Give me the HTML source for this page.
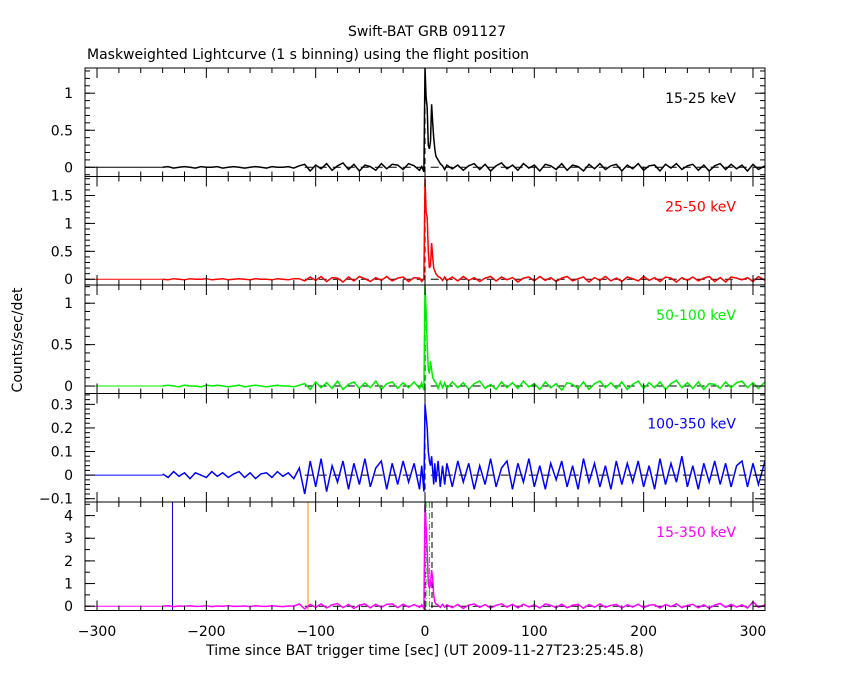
<!DOCTYPE html>
<html><head><meta charset="utf-8"><style>
html,body{margin:0;padding:0;background:#fff;}
svg{display:block;font-family:"DejaVu Sans","Liberation Sans",sans-serif;}
</style></head><body>
<svg id="chart" width="850" height="680" viewBox="0 0 850 680" xmlns="http://www.w3.org/2000/svg">
<rect width="850" height="680" fill="#fff"/>
<text x="427" y="36" font-size="14" text-anchor="middle">Swift-BAT GRB 091127</text>
<text x="87" y="59" font-size="14">Maskweighted Lightcurve (1 s binning) using the flight position</text>
<text transform="translate(22,340) rotate(-90)" font-size="14" text-anchor="middle">Counts/sec/det</text>
<text x="425" y="655" font-size="14" text-anchor="middle">Time since BAT trigger time [sec] (UT 2009-11-27T23:25:45.8)</text>
<g id="plots"></g>
</svg>
<script>
const times = [-240,-235,-230,-225,-220,-215,-210,-205,-200,-195,-190,-185,-180,-175,-170,-165,-160,-155,-150,-145,-140,-135,-130,-125,-120,-115,
-110,-105,-100,-95,-90,-85,-80,-75,-70,-65,-60,-55,-50,-45,-40,-35,-30,-25,-20,-15,-10,
-5,-3,-1,0,1,2,3,4,5,6,7,8,9,10,12,14,16,18,20,
25,30,35,40,45,50,55,60,65,70,75,80,85,90,95,100,105,110,115,120,125,130,135,140,145,150,155,160,165,170,175,180,185,190,195,200,205,210,215,220,225,230,235,240,245,250,255,260,265,270,275,280,285,290,295,300,305,311];
const rate15_25 = [0,0.01,-0.01,0,0.01,0,-0.01,0.01,0,0,0.01,-0.01,0,0.01,0,-0.01,0,0.01,0,-0.01,0.01,0,0,0.01,-0.01,0.02,
0.04,-0.05,0.03,-0.02,0.05,-0.04,0.02,0.06,-0.03,0.04,-0.05,0.03,0.01,-0.04,0.05,-0.02,0.04,0.03,-0.03,0.05,0.02,
-0.04,0.01,-0.06,1.34,0.95,0.8,0.3,0.25,0.35,0.85,0.6,0.4,0.25,0.15,0.1,0.05,0.02,-0.03,0.03,
-0.02,0.03,-0.04,0.02,0.05,-0.03,0.04,-0.05,0.02,0.06,-0.02,0.03,-0.04,0.05,-0.01,0.03,-0.05,0.04,0.02,-0.03,0.05,-0.04,0.03,0.01,-0.05,0.04,-0.02,0.05,-0.03,0.02,0.04,-0.05,0.03,-0.02,0.05,-0.04,0.02,0.03,-0.05,0.04,-0.01,0.05,-0.03,0.02,0.04,-0.04,0.03,-0.05,0.02,0.05,-0.03,0.04,-0.02,0.03,-0.05,0.04,-0.03,0.02,0.04,-0.03,0.02,-0.04];
const rate25_50 = [0,-0.01,0.01,0,-0.01,0.01,0,0,0.01,-0.01,0,0.01,-0.01,0,0.01,0,-0.01,0.01,0,0,-0.01,0.01,0,-0.01,0.01,0.01,
-0.03,0.04,-0.02,0.05,-0.04,0.03,0.02,-0.05,0.04,-0.03,0.05,0.01,-0.04,0.03,-0.02,0.05,-0.03,0.02,0.04,-0.04,0.03,
0.02,-0.04,0.01,1.8,1.2,1.1,0.5,0.2,0.25,0.65,0.4,0.2,0.15,0.1,0.05,0.03,-0.02,0.04,-0.02,
0.04,-0.03,0.05,-0.02,0.03,-0.04,0.02,0.05,-0.03,0.04,-0.01,0.03,-0.05,0.02,0.04,-0.03,0.05,-0.02,0.03,-0.04,0.02,0.05,-0.03,0.01,0.04,-0.05,0.03,-0.02,0.05,-0.03,0.02,-0.04,0.04,0.01,-0.03,0.05,-0.02,0.03,-0.04,0.04,0.02,-0.05,0.03,-0.02,0.04,-0.03,0.02,0.05,-0.04,0.03,-0.05,0.04,0.02,-0.01,0.03,-0.04,0.05,-0.02];
const rate50_100 = [0,0.01,0,-0.01,0.01,0,0,-0.01,0.01,0,0.01,0,-0.01,0,0.01,-0.01,0,0.01,0,-0.01,0,0.01,0,0,-0.01,0.01,
0.03,-0.04,0.05,-0.02,0.04,-0.03,0.06,-0.04,0.02,0.05,-0.03,0.04,-0.02,0.06,-0.04,0.03,0.05,-0.03,0.04,-0.02,0.05,
-0.03,0.04,-0.05,1.22,0.9,0.5,0.2,0.15,0.3,0.2,0.1,0.08,0.05,0.04,-0.03,0.05,-0.02,0.04,
-0.03,0.05,-0.02,0.04,-0.04,0.03,0.06,-0.03,0.02,-0.04,0.05,-0.02,0.04,-0.03,0.06,-0.01,0.03,-0.04,0.05,-0.02,0.03,-0.05,0.04,0.02,-0.03,0.05,-0.04,0.03,0.06,-0.02,0.04,-0.03,0.05,-0.04,0.02,0.06,-0.03,0.04,-0.02,0.05,-0.04,0.03,0.07,-0.02,0.04,-0.03,0.05,-0.04,0.03,0.02,-0.03,0.05,-0.02,0.04,0.06,-0.02,0.04,-0.03,0.05,-0.02];
const rate100_350 = [0.005,-0.01,0.015,-0.005,0.01,-0.015,0.01,0,-0.01,0.015,-0.005,0.01,-0.01,0.005,0.015,-0.01,0.01,-0.015,0.005,0.01,-0.01,0.015,-0.005,0.01,-0.015,0.03,
-0.08,0.06,-0.05,0.07,-0.07,0.04,-0.03,0.06,-0.06,0.05,-0.04,0.07,-0.05,0.03,0.06,-0.06,0.05,-0.04,0.06,-0.03,0.05,
-0.06,0.04,-0.07,0.3,0.25,0.2,0.1,0.06,0.04,0.08,0.02,-0.04,0.05,-0.03,0.06,-0.05,0.04,-0.04,0.05,
-0.05,0.06,-0.03,0.05,-0.06,0.04,-0.04,0.07,-0.05,0.03,0.06,-0.06,0.05,-0.03,0.07,-0.05,0.04,-0.06,0.05,-0.02,0.06,-0.05,0.04,-0.06,0.07,-0.03,0.05,-0.05,0.04,-0.06,0.06,-0.04,0.05,-0.03,0.06,-0.05,0.04,-0.06,0.07,-0.04,0.05,-0.03,0.08,-0.05,0.04,-0.06,0.05,-0.03,0.06,-0.04,0.05,-0.05,0.04,0.06,-0.05,0.05,-0.04,0.06,-0.03];
const rate15_350 = [0,0.02,-0.02,0.01,0,0.02,-0.01,0,0.02,-0.02,0.01,0,0.02,-0.01,0,0.01,-0.02,0.02,0,-0.01,0.02,0,-0.02,0.01,0,0.1,
-0.12,0.08,-0.05,0.1,-0.08,0.06,0.12,-0.06,0.08,-0.1,0.05,0.1,-0.07,0.09,-0.05,0.08,0.1,-0.06,0.09,-0.04,0.07,
-0.05,0.06,-0.1,4.5,3.5,2.5,1.0,0.8,0.9,1.6,1.2,0.5,0.2,0.1,0.05,-0.05,0.08,-0.04,0.06,
-0.06,0.08,-0.1,0.05,0.1,-0.05,0.07,-0.08,0.04,0.1,-0.04,0.08,-0.07,0.09,-0.03,0.06,-0.08,0.1,0.04,-0.06,0.09,-0.07,0.05,0.08,-0.09,0.07,-0.04,0.1,-0.05,0.04,0.08,-0.08,0.06,-0.04,0.09,-0.07,0.05,0.06,-0.08,0.07,-0.02,0.1,-0.06,0.04,0.08,-0.07,0.06,-0.09,0.05,0.12,-0.05,0.08,-0.04,0.06,-0.08,0.2,-0.05,0.06,-0.06,0.08,-0.05,0.07];
const bandLabels = ["15-25 keV","25-50 keV","50-100 keV","100-350 keV","15-350 keV"];
const bandColors = ["#000000","#ff0000","#00ee00","#0000ff","#ff00ff"];
const yMins = [-0.124,-0.103,-0.09,-0.114,-0.19];
const yMaxs = [1.34,1.84,1.22,0.346,4.6];
const yTicks = [[0,0.5,1],[0,0.5,1,1.5],[0,0.5,1],[-0.1,0,0.1,0.2,0.3],[0,1,2,3,4]];
const yTickLabels = [["0","0.5","1"],["0","0.5","1","1.5"],["0","0.5","1"],["−0.1","0","0.1","0.2","0.3"],["0","1","2","3","4"]];
const yMinorSteps = [0.1,0.1,0.1,0.02,0.5];
const xTicks = [-300,-200,-100,0,100,200,300];
const xTickLabels = ["−300","−200","−100","0","100","200","300"];
const series = [rate15_25,rate25_50,rate50_100,rate100_350,rate15_350];

const NS="http://www.w3.org/2000/svg";
const g=document.getElementById('plots');
const L=85,R=765,T0=68,PH=108.5,xMin=-311,xMax=311;
const xs=v=>L+(v-xMin)/(xMax-xMin)*(R-L);
function mk(tag,attrs,parent){const e=document.createElementNS(NS,tag);for(const k in attrs)e.setAttribute(k,attrs[k]);(parent||g).appendChild(e);return e;}
for(let p=0;p<5;p++){
  const top=T0+p*PH,bot=top+PH;
  const ys=v=>bot-(v-yMins[p])/(yMaxs[p]-yMins[p])*PH;
  const pg=mk('g',{});
  
  
  const cl=mk('clipPath',{id:'c'+p},pg);mk('rect',{x:L,y:top,width:R-L,height:PH},cl);
  const inner=mk('g',{'clip-path':'url(#c'+p+')'},pg);
  mk('line',{x1:L,y1:ys(0),x2:xs(times[0]),y2:ys(0),stroke:p==0?'#000':bandColors[p],'stroke-width':1},inner);
  mk('line',{x1:xs(-110),y1:ys(0),x2:R,y2:ys(0),stroke:'#000','stroke-width':1,'stroke-dasharray':'8,6'},inner);
  mk('line',{x1:xs(0),y1:top,x2:xs(0),y2:bot,stroke:'#000','stroke-width':1,'stroke-dasharray':'6,4'},inner);
  if(p==4){
    const vb=mk('line',{x1:xs(-231),y1:top,x2:xs(-231),y2:bot,stroke:'#0000cc','stroke-width':1},inner);
    
    
    const vo=mk('line',{x1:xs(-107),y1:top,x2:xs(-107),y2:bot,stroke:'#ff8800','stroke-width':1},inner);
    
    
    mk('line',{x1:xs(6.4),y1:top,x2:xs(6.4),y2:bot,stroke:'#000','stroke-width':1,'stroke-dasharray':'6,4'},inner);
    mk('line',{x1:xs(1),y1:top,x2:xs(1),y2:bot,stroke:'#00cc00','stroke-width':1,'stroke-dasharray':'6,2,1,2'},inner);
    mk('line',{x1:xs(4),y1:top,x2:xs(4),y2:bot,stroke:'#00cc00','stroke-width':1,'stroke-dasharray':'6,2,1,2'},inner);
  }
  const vals=series[p];const n=Math.min(vals.length,times.length);
  let d='';
  for(let i=0;i<n;i++){d+=(i?'L':'M')+xs(times[i]).toFixed(1)+','+ys(vals[i]).toFixed(1);}
  d+='L'+R+','+ys(vals[n-1]).toFixed(1);
  const path=mk('path',{d:d,fill:'none',stroke:bandColors[p],'stroke-width':1.5,'stroke-linejoin':'miter'},inner);
  
  
  mk('rect',{x:L,y:top,width:R-L,height:PH,fill:'none',stroke:'#000','stroke-width':1},pg);
  for(let v=-300;v<=300;v+=20){const x=xs(v),len=(v%100==0)?10:5;
    mk('line',{x1:x,y1:top,x2:x,y2:top+len,stroke:'#000'},pg);mk('line',{x1:x,y1:bot,x2:x,y2:bot-len,stroke:'#000'},pg);}
  const st=yMinorSteps[p];
  for(let v=Math.ceil(yMins[p]/st)*st;v<=yMaxs[p];v+=st){const y=ys(v);
    mk('line',{x1:L,y1:y,x2:L+5,y2:y,stroke:'#000'},pg);mk('line',{x1:R,y1:y,x2:R-5,y2:y,stroke:'#000'},pg);}
  yTicks[p].forEach((v,i)=>{const y=ys(v);
    mk('line',{x1:L,y1:y,x2:L+10,y2:y,stroke:'#000'},pg);mk('line',{x1:R,y1:y,x2:R-10,y2:y,stroke:'#000'},pg);
    const t=mk('text',{x:L-12,y:y+5,'font-size':14,'text-anchor':'end'},pg);t.textContent=yTickLabels[p][i];
    
    });
  const lb=mk('text',{x:736,y:top+35,'font-size':14,'text-anchor':'end',fill:bandColors[p]},pg);lb.textContent=bandLabels[p];
  
  
}
xTicks.forEach((v,i)=>{const t=mk('text',{x:xs(v),y:636,'font-size':14,'text-anchor':'middle'});t.textContent=xTickLabels[i];
  
  });
</script>
</body></html>
